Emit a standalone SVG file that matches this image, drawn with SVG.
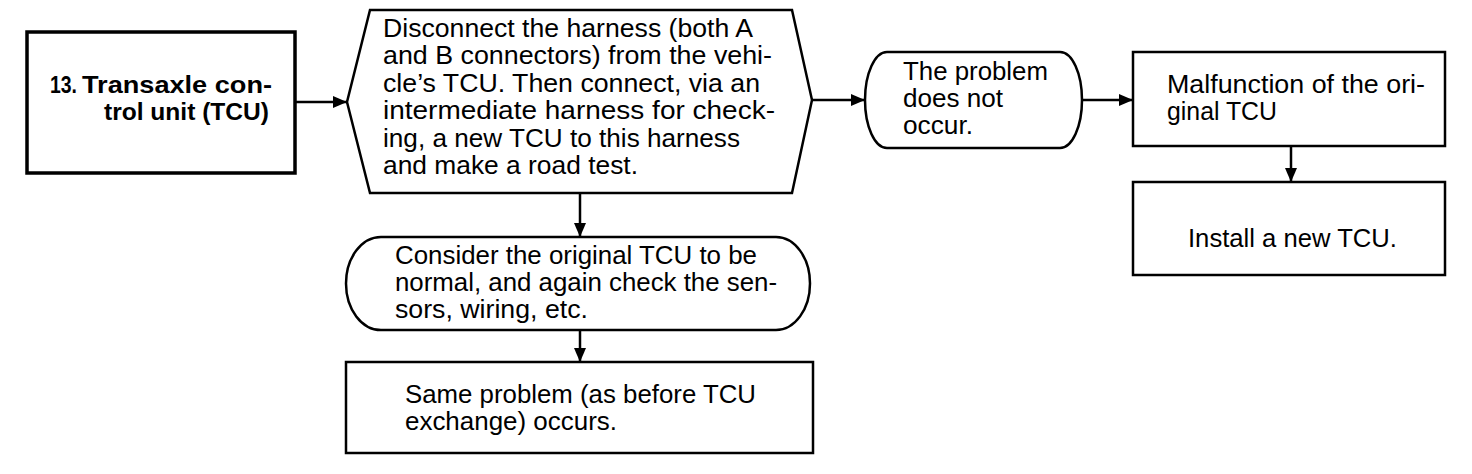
<svg xmlns="http://www.w3.org/2000/svg" width="1472" height="474" viewBox="0 0 1472 474">
<style>
.shape{fill:#fff;stroke:#000;stroke-width:2.5;stroke-linejoin:miter}
.thick{stroke-width:3.5}
.t{font-family:"Liberation Sans",Arial,sans-serif;font-size:25px;fill:#000}
.b{font-weight:bold;font-size:24px}
.conn{stroke:#000;stroke-width:2.5;fill:none}
</style>
<defs>
<marker id="ah" markerWidth="14" markerHeight="12" refX="14" refY="6" orient="auto" markerUnits="userSpaceOnUse">
<path d="M0,0 L14,6 L0,12 Z" fill="#000"/>
</marker>
</defs>
<rect width="1472" height="474" fill="#fff"/>
<g id="connectors">
<line class="conn" x1="295" y1="102" x2="347" y2="102" marker-end="url(#ah)"/>
<line class="conn" x1="812" y1="100" x2="865" y2="100" marker-end="url(#ah)"/>
<line class="conn" x1="1082" y1="100" x2="1133" y2="100" marker-end="url(#ah)"/>
<line class="conn" x1="1291" y1="146" x2="1291" y2="182" marker-end="url(#ah)"/>
<line class="conn" x1="580" y1="193" x2="580" y2="237" marker-end="url(#ah)"/>
<line class="conn" x1="580" y1="330" x2="580" y2="362" marker-end="url(#ah)"/>
</g>
<g id="n13">
<rect class="shape thick" x="27" y="32" width="268" height="141"/>
<text class="t b" x="50" y="93" textLength="27" lengthAdjust="spacingAndGlyphs">13.</text>
<text class="t b" x="82" y="93" textLength="190" lengthAdjust="spacingAndGlyphs">Transaxle con-</text>
<text class="t b" x="104" y="120" textLength="165" lengthAdjust="spacingAndGlyphs">trol unit (TCU)</text>
</g>
<g id="disconnect">
<polygon class="shape" points="370,10 792,10 812,100 792,193 370,193 347,102"/>
<text class="t" x="383" y="37" textLength="370" lengthAdjust="spacingAndGlyphs">Disconnect the harness (both A</text>
<text class="t" x="383" y="64.4" textLength="389" lengthAdjust="spacingAndGlyphs">and B connectors) from the vehi-</text>
<text class="t" x="383" y="91.8" textLength="377" lengthAdjust="spacingAndGlyphs">cle’s TCU. Then connect, via an</text>
<text class="t" x="383" y="119.2" textLength="392" lengthAdjust="spacingAndGlyphs">intermediate harness for check-</text>
<text class="t" x="383" y="146.6" textLength="357" lengthAdjust="spacingAndGlyphs">ing, a new TCU to this harness</text>
<text class="t" x="383" y="174" textLength="255" lengthAdjust="spacingAndGlyphs">and make a road test.</text>
</g>
<g id="noproblem">
<path class="shape" d="M887,52 H1060 A22 48 0 0 1 1060,148 H887 A22 48 0 0 1 887,52 Z"/>
<text class="t" x="903" y="80" textLength="145" lengthAdjust="spacingAndGlyphs">The problem</text>
<text class="t" x="903" y="107" textLength="100" lengthAdjust="spacingAndGlyphs">does not</text>
<text class="t" x="903" y="134" textLength="70" lengthAdjust="spacingAndGlyphs">occur.</text>
</g>
<g id="malfunction">
<rect class="shape" x="1133" y="52" width="312" height="94"/>
<text class="t" x="1167" y="93" textLength="258" lengthAdjust="spacingAndGlyphs">Malfunction of the ori-</text>
<text class="t" x="1167" y="120" textLength="110" lengthAdjust="spacingAndGlyphs">ginal TCU</text>
</g>
<g id="install">
<rect class="shape" x="1133" y="182" width="312" height="93"/>
<text class="t" x="1188" y="247" textLength="209" lengthAdjust="spacingAndGlyphs">Install a new TCU.</text>
</g>
<g id="consider">
<path class="shape" d="M381,237 H776 A34 46.5 0 0 1 776,330 H381 A35 46.5 0 0 1 381,237 Z"/>
<text class="t" x="395" y="264" textLength="362" lengthAdjust="spacingAndGlyphs">Consider the original TCU to be</text>
<text class="t" x="395" y="291" textLength="382" lengthAdjust="spacingAndGlyphs">normal, and again check the sen-</text>
<text class="t" x="395" y="318" textLength="193" lengthAdjust="spacingAndGlyphs">sors, wiring, etc.</text>
</g>
<g id="sameproblem">
<rect class="shape" x="346" y="362" width="467" height="91"/>
<text class="t" x="405" y="403" textLength="351" lengthAdjust="spacingAndGlyphs">Same problem (as before TCU</text>
<text class="t" x="405" y="430" textLength="212" lengthAdjust="spacingAndGlyphs">exchange) occurs.</text>
</g>
</svg>
